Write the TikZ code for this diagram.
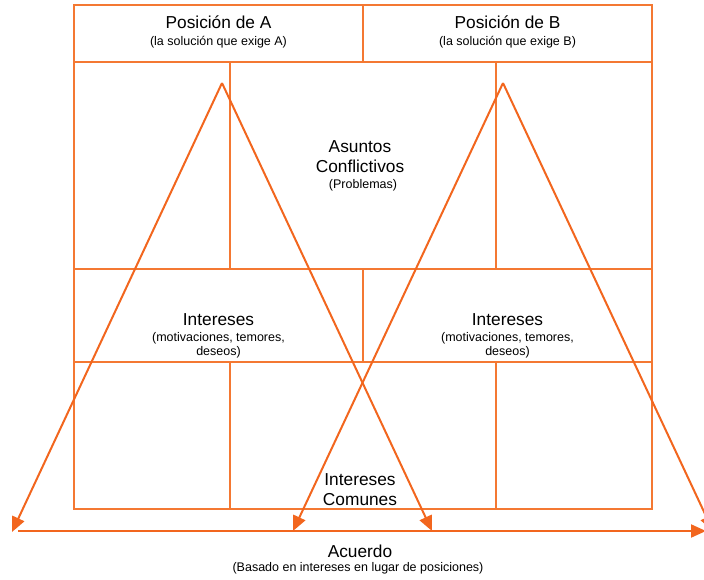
\documentclass[tikz,border=0pt]{standalone}
\usepackage{fontspec}
\setmainfont{Liberation Sans}
\usetikzlibrary{arrows.meta}
\definecolor{gridorange}{RGB}{244,120,50}
\definecolor{arroworange}{RGB}{242,102,30}
\tikzset{
  gridline/.style={draw=gridorange, line width=1.3pt},
  legline/.style={draw=arroworange, line width=2pt, -{Triangle[length=15pt,width=13pt]}},
  bigtext/.style={font=\fontsize{17.3}{20}\selectfont, inner sep=0pt, align=center},
  smalltext/.style={font=\fontsize{12.5}{14}\selectfont, inner sep=0pt, align=center},
}
\begin{document}
\begin{tikzpicture}[x=1pt,y=-1pt]
\useasboundingbox (0,0) rectangle (704,580);

% frame and cell divisions
\draw[gridline] (74,5) rectangle (652,509);
\draw[gridline] (74,62) -- (652,62);
\draw[gridline] (74,269) -- (652,269);
\draw[gridline] (74,362) -- (652,362);
\draw[gridline] (363,5) -- (363,62);
\draw[gridline] (230,62) -- (230,269);
\draw[gridline] (496,62) -- (496,269);
\draw[gridline] (363,269) -- (363,362);
\draw[gridline] (230,362) -- (230,509);
\draw[gridline] (496,362) -- (496,509);

% headers
\node[bigtext] (posA) at (218.5,22) {Posición de A};
\node[smalltext] (posAsub) at (218.5,42) {(la solución que exige A)};
\node[bigtext] (posB) at (507.5,22) {Posición de B};
\node[smalltext] (posBsub) at (507.5,42) {(la solución que exige B)};

% central issues
\node[bigtext] (issues) at (360,157) {Asuntos\\Conflictivos};
\node[smalltext] (issuessub) at (363,185) {(Problemas)};

% interests
\node[bigtext] (intA) at (218.5,320) {Intereses};
\node[smalltext] (intAsub) at (218.5,345) {(motivaciones, temores,\\deseos)};
\node[bigtext] (intB) at (507.5,320) {Intereses};
\node[smalltext] (intBsub) at (507.5,345) {(motivaciones, temores,\\deseos)};

% common interests
\node[bigtext] (common) at (360,489.5) {Intereses\\Comunes};

% agreement
\node[bigtext] (agree) at (360,551) {Acuerdo};
\node[smalltext] (agreesub) at (358,568) {(Basado en intereses en lugar de posiciones)};

% triangle apexes and leg ends
\coordinate (apexA) at (222,83);
\coordinate (apexB) at (503,83);
\coordinate (footAl) at (12,532);
\coordinate (footAr) at (432,531);
\coordinate (footBl) at (293,531);
\coordinate (footBr) at (713,531);
\coordinate (baseL) at (18,531);
\coordinate (baseR) at (706,531);

\draw[legline] (apexA) -- (footAl);
\draw[legline] (apexA) -- (footAr);
\draw[legline] (apexB) -- (footBl);
\draw[legline] (apexB) -- (footBr);
\draw[legline] (baseL) -- (baseR);
\end{tikzpicture}
\end{document}
